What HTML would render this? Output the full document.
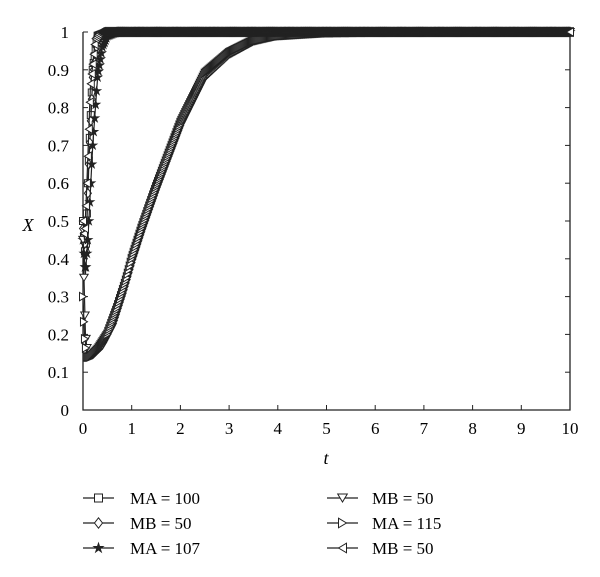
<!DOCTYPE html>
<html><head><meta charset="utf-8"><style>
body{margin:0;background:#fff}
svg{display:block;font-family:"Liberation Serif",serif}
</style></head><body>
<svg id="chart" width="600" height="577" viewBox="0 0 600 577">
<g id="axes"></g>
<g id="series"></g>
<g id="legend"></g>
</svg>
<script>
const xTicks=[0,1,2,3,4,5,6,7,8,9,10];
const yTicks=[0,0.1,0.2,0.3,0.4,0.5,0.6,0.7,0.8,0.9,1];
const yTickLabels=["0","0.1","0.2","0.3","0.4","0.5","0.6","0.7","0.8","0.9","1"];
const seriesNames=["MA = 100","MB = 50","MA = 107","MB = 50","MA = 115","MB = 50"];
const seriesMarkers=["square","diamond","star","down","right","left"];
const tSquare=[0,0.05,0.1,0.2,0.3,0.5,1,10];
const vSquare=[0.5,0.4,0.6,0.9,0.99,1.0,1.0,1.0];
const tDiamond=[0,0.06,0.12,0.2,0.3,0.45,1,10];
const vDiamond=[0.48,0.42,0.65,0.88,0.98,1.0,1.0,1.0];
const tStar=[0,0.05,0.1,0.2,0.3,0.4,0.5,0.7,10];
const vStar=[0.45,0.36,0.45,0.7,0.88,0.96,0.99,1.0,1.0];
const tDown=[0,0.05,0.1,0.2,0.4,0.6,0.8,1.0,1.2,1.5,2.0,2.5,3.0,3.5,4.0,5.0,6.0,10];
const vDown=[0.45,0.2,0.14,0.145,0.17,0.22,0.3,0.39,0.47,0.58,0.75,0.88,0.94,0.975,0.99,0.998,1.0,1.0];
const tRight=[0,0.03,0.08,0.15,0.3,0.5,0.7,0.9,1.0,1.2,1.5,2.0,2.5,3.0,3.5,4.0,5.0,6.0,10];
const vRight=[0.3,0.2,0.14,0.14,0.16,0.2,0.27,0.35,0.4,0.48,0.59,0.76,0.89,0.945,0.977,0.99,0.998,1.0,1.0];
const tLeft=[0,0.03,0.08,0.15,0.25,0.35,10];
const vLeft=[0.5,0.45,0.6,0.85,0.98,1.0,1.0];

const X0=83,X1=570,Y0=410,Y1=32;
const xs=t=>X0+(t/10)*(X1-X0);
const ys=v=>Y0-v*(Y0-Y1);
const NS="http://www.w3.org/2000/svg";
function mk(tag,attrs,parent){const e=document.createElementNS(NS,tag);for(const k in attrs)e.setAttribute(k,attrs[k]);parent.appendChild(e);return e;}
const axes=document.getElementById('axes');
const sl=document.getElementById('series');
const lg=document.getElementById('legend');

let a=mk('path',{d:`M${X0},${Y1} V${Y0} H${X1} V${Y1}`,fill:'none',stroke:'#222','stroke-width':1.3},axes);


xTicks.forEach((t,i)=>{
 const x=xs(t);
 let tk=mk('line',{x1:x,x2:x,y1:Y0,y2:Y0-5,stroke:'#222'},axes);
 
 
 let tx=mk('text',{x:x,y:Y0+24,'text-anchor':'middle','font-size':17},axes);tx.textContent=String(t);
 
 
});
yTicks.forEach((v,i)=>{
 const y=ys(v);
 let tk=mk('line',{x1:X0,x2:X0+5,y1:y,y2:y,stroke:'#222'},axes);
 
 
 let tk2=mk('line',{x1:X1,x2:X1-5,y1:y,y2:y,stroke:'#222'},axes);
 
 
 let tx=mk('text',{x:X0-14,y:y+6,'text-anchor':'end','font-size':17},axes);tx.textContent=yTickLabels[i];
 
 
});
let xl=mk('text',{x:326,y:464,'text-anchor':'middle','font-size':18,'font-style':'italic'},axes);xl.textContent='t';


let yl=mk('text',{x:28,y:231,'text-anchor':'middle','font-size':18,'font-style':'italic'},axes);yl.textContent='X';



function marker(type,x,y,s,parent){
 let d;
 if(type==='square')d=`M${x-s},${y-s}h${2*s}v${2*s}h${-2*s}z`;
 else if(type==='diamond')d=`M${x},${y-s*1.3}L${x+s},${y}L${x},${y+s*1.3}L${x-s},${y}z`;
 else if(type==='down')d=`M${x-s*1.2},${y-s}L${x+s*1.2},${y-s}L${x},${y+s}z`;
 else if(type==='right')d=`M${x-s},${y-s*1.2}L${x+s},${y}L${x-s},${y+s*1.2}z`;
 else if(type==='left')d=`M${x+s},${y-s*1.2}L${x-s},${y}L${x+s},${y+s*1.2}z`;
 else {let p=[];for(let k=0;k<10;k++){const r=k%2?s*0.45:s*1.2;const ang=-Math.PI/2+k*Math.PI/5;p.push((x+r*Math.cos(ang)).toFixed(1)+','+(y+r*Math.sin(ang)).toFixed(1));}d='M'+p.join('L')+'z';}
 return mk('path',{d:d,fill:type==='star'?'#222':'#fff',stroke:'#222','stroke-width':1},parent);
}
function valAt(ts,vs,t){for(let i=1;i<ts.length;i++){if(t<=ts[i]){const f=(t-ts[i-1])/(ts[i]-ts[i-1]);return vs[i-1]+f*(vs[i]-vs[i-1]);}}return vs[vs.length-1];}
const allT=[tSquare,tDiamond,tStar,tDown,tRight,tLeft];
const allV=[vSquare,vDiamond,vStar,vDown,vRight,vLeft];
allT.forEach((ts,si)=>{
 const vs=allV[si];
 const g=mk('g',{},sl);
 
 
 const ln=mk('polyline',{points:ts.map((t,i)=>xs(t)+','+ys(vs[i])).join(' '),fill:'none',stroke:'#222','stroke-width':1.2},g);
 
 
 const tmax=ts[ts.length-1];
 for(let t=0;t<=tmax+1e-9;t+=0.02){
  const m=marker(seriesMarkers[si],xs(t),ys(valAt(ts,vs,t)),3.5,g);
  
  
 }
});
seriesNames.forEach((n,i)=>{
 const col=Math.floor(i/3),row=i%3;
 const lx=col?327:83,y=498+row*25;
 const g=mk('g',{},lg);
 
 
 mk('line',{x1:lx,x2:lx+31,y1:y,y2:y,stroke:'#222','stroke-width':1.2},g);
 marker(seriesMarkers[i],lx+15.5,y,4,g);
 const tx=mk('text',{x:col?372:130,y:y+6,'font-size':17},g);tx.textContent=n;
});
</script>
</body></html>
